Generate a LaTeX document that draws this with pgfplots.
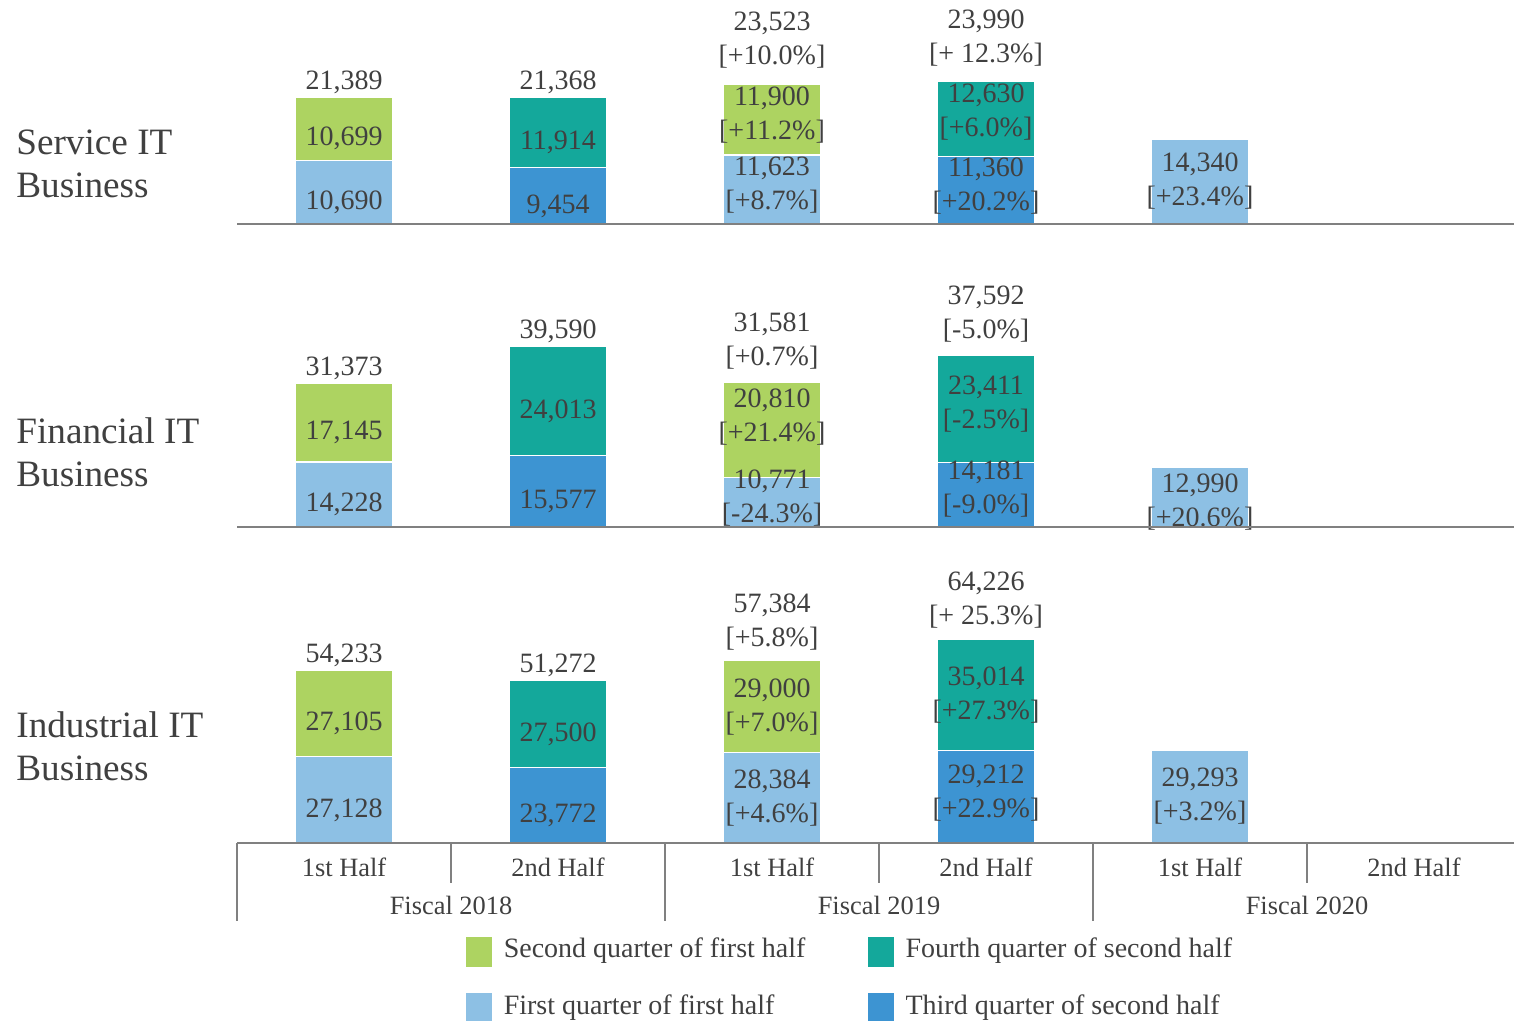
\documentclass[border=0pt]{standalone}
\usepackage{fontspec}
\setmainfont{Liberation Serif}
\usepackage{pgfplots}
\usepackage{pgfplotstable}
\pgfplotsset{compat=1.18}

\definecolor{qone}{HTML}{8DC0E4}
\definecolor{qtwo}{HTML}{ADD361}
\definecolor{qthree}{HTML}{3D94D2}
\definecolor{qfour}{HTML}{14A89B}
\definecolor{txt}{HTML}{404040}
\definecolor{rule}{HTML}{808080}

% columns: q1 = first quarter, q3 = third quarter, q2 = second quarter, q4 = fourth quarter
\pgfplotstableread{
x q1 q3 q2 q4
0 10690 0 10699 0
1 0 9454 0 11914
2 11623 0 11900 0
3 0 11360 0 12630
4 14340 0 0 0
5 0 0 0 0
}\service

\pgfplotstableread{
x q1 q3 q2 q4
0 14228 0 17145 0
1 0 15577 0 24013
2 10771 0 20810 0
3 0 14181 0 23411
4 12990 0 0 0
5 0 0 0 0
}\financial

\pgfplotstableread{
x q1 q3 q2 q4
0 27128 0 27105 0
1 0 23772 0 27500
2 28384 0 29000 0
3 0 29212 0 35014
4 29293 0 0 0
5 0 0 0 0
}\industrial

\pgfplotsset{
  panel/.style={
    scale only axis, width=642pt, anchor=south west,
    xmin=-0.5, xmax=5.5, ymin=0,
    ybar stacked, reverse stacked plots=false, bar width=0.45,
    hide y axis, axis x line=bottom,
    axis line style={rule, line width=1pt, -},
    xtick=\empty, axis on top, clip=false,
    every axis plot/.append style={draw=white, line width=0.6pt},
  },
}
\tikzset{
  lbl/.style={font=\fontsize{14}{17}\selectfont, text=txt, align=center, inner sep=0pt},
  rowl/.style={font=\fontsize{18.6}{21.5}\selectfont, text=txt, align=left, inner sep=0pt, anchor=west},
  cat/.style={font=\fontsize{13.2}{16}\selectfont, text=txt, inner sep=0pt},
  sep/.style={rule, line width=1pt},
}
% labels: single line inside, two lines inside, single line on top, two lines on top
\newcommand\ins[3]{\node[lbl, yshift=-5pt] at (axis cs:#1,#2) {#3};}
\newcommand\inm[4][0pt]{\node[lbl, yshift=#1] at (axis cs:#2,#3) {#4};}
\newcommand\tops[3]{\node[lbl, anchor=base, yshift=4pt] at (axis cs:#1,#2) {#3};}
\newcommand\topm[4][0pt]{\node[lbl, anchor=south, yshift=5.25pt+#1] at (axis cs:#2,#3) {#4};}
\newcommand\bars[1]{%
  \addplot[fill=qone] table[x=x, y=q1] {#1};
  \addplot[fill=qthree] table[x=x, y=q3] {#1};
  \addplot[fill=qtwo] table[x=x, y=q2] {#1};
  \addplot[fill=qfour] table[x=x, y=q4] {#1};
}

\begin{document}
\begin{tikzpicture}
\path[use as bounding box] (0,0) rectangle (757pt,510.5pt);

\node[rowl] at (8pt,428.75pt) {Service IT\\Business};
\node[rowl] at (8pt,284.25pt) {Financial IT\\Business};
\node[rowl] at (8pt,137.25pt) {Industrial IT\\Business};

% Service IT
\begin{axis}[panel, at={(118.5pt,398.5pt)}, ymax=30000, height=89pt]
  \bars{\service}
  \ins{0}{5345}{10,690}
  \ins{0}{16039.5}{10,699}
  \tops{0}{21389}{21,389}
  \ins{1}{4727}{9,454}
  \ins{1}{15411}{11,914}
  \tops{1}{21368}{21,368}
  \inm[2pt]{2}{5811.5}{11,623\\{}[+8.7\%]}
  \inm[2.5pt]{2}{17573}{11,900\\{}[+11.2\%]}
  \topm[2.5pt]{2}{23523}{23,523\\{}[+10.0\%]}
  \inm[2pt]{3}{5680}{11,360\\{}[+20.2\%]}
  \inm[3.5pt]{3}{17675}{12,630\\{}[+6.0\%]}
  \topm[2pt]{3}{23990}{23,990\\{}[+ 12.3\%]}
  \inm{4}{7170}{14,340\\{}[+23.4\%]}
\end{axis}

% Financial IT
\begin{axis}[panel, at={(118.5pt,247pt)}, ymax=40000, height=91.4pt]
  \bars{\financial}
  \ins{0}{7114}{14,228}
  \ins{0}{22800.5}{17,145}
  \tops{0}{31373}{31,373}
  \ins{1}{7788.5}{15,577}
  \ins{1}{27583.5}{24,013}
  \tops{1}{39590}{39,590}
  \inm[2pt]{2}{5385.5}{10,771\\{}[-24.3\%]}
  \inm[6.5pt]{2}{21176}{20,810\\{}[+21.4\%]}
  \topm[1.5pt]{2}{31581}{31,581\\{}[+0.7\%]}
  \inm[3pt]{3}{7090.5}{14,181\\{}[-9.0\%]}
  \inm[2.5pt]{3}{25886.5}{23,411\\{}[-2.5\%]}
  \topm[1pt]{3}{37592}{37,592\\{}[-5.0\%]}
  \inm[-2.5pt]{4}{6495}{12,990\\{}[+20.6\%]}
\end{axis}

% Industrial IT
\begin{axis}[panel, at={(118.5pt,89pt)}, ymax=65000, height=103.2pt]
  \bars{\industrial}
  \ins{0}{13564}{27,128}
  \ins{0}{40680.5}{27,105}
  \tops{0}{54233}{54,233}
  \ins{1}{11886}{23,772}
  \ins{1}{37522}{27,500}
  \tops{1}{51272}{51,272}
  \inm{2}{14192}{28,384\\{}[+4.6\%]}
  \inm{2}{42884}{29,000\\{}[+7.0\%]}
  \topm{2}{57384}{57,384\\{}[+5.8\%]}
  \inm[2pt]{3}{14606}{29,212\\{}[+22.9\%]}
  \inm{3}{46719}{35,014\\{}[+27.3\%]}
  \topm{3}{64226}{64,226\\{}[+ 25.3\%]}
  \inm{4}{14646.5}{29,293\\{}[+3.2\%]}
  % category axis
  \node[cat, yshift=-12pt] at (axis cs:0,0) {1st Half};
  \node[cat, yshift=-12pt] at (axis cs:1,0) {2nd Half};
  \node[cat, yshift=-12pt] at (axis cs:2,0) {1st Half};
  \node[cat, yshift=-12pt] at (axis cs:3,0) {2nd Half};
  \node[cat, yshift=-12pt] at (axis cs:4,0) {1st Half};
  \node[cat, yshift=-12pt] at (axis cs:5,0) {2nd Half};
  \node[cat, yshift=-31pt] at (axis cs:0.5,0) {Fiscal 2018};
  \node[cat, yshift=-31pt] at (axis cs:2.5,0) {Fiscal 2019};
  \node[cat, yshift=-31pt] at (axis cs:4.5,0) {Fiscal 2020};
  \draw[sep] (axis cs:0.5,0) -- ++(0pt,-20pt);
  \draw[sep] (axis cs:2.5,0) -- ++(0pt,-20pt);
  \draw[sep] (axis cs:4.5,0) -- ++(0pt,-20pt);
  \draw[sep] (axis cs:-0.5,0) -- ++(0pt,-39pt);
  \draw[sep] (axis cs:1.5,0) -- ++(0pt,-39pt);
  \draw[sep] (axis cs:3.5,0) -- ++(0pt,-39pt);
\end{axis}

% legend
\begin{axis}[hide axis, scale only axis, width=10pt, height=10pt,
    at={(233pt,-1.25pt)}, anchor=south west,
    xmin=0, xmax=1, ymin=0, ymax=1,
    legend columns=2, legend cell align=left,
    legend style={at={(0,0)}, anchor=south west, draw=none, fill=none,
      inner sep=0pt, outer sep=0pt, column sep=0pt, row sep=11pt,
      font=\fontsize{14}{17}\selectfont, text=txt, nodes={inner sep=0pt}},
    legend image code/.code={\fill[#1, draw=none] (0pt,-8.5pt) rectangle (13pt,6.5pt);
      \path (0pt,-8.25pt) (18.5pt,8.75pt);}]
  \addlegendimage{fill=qtwo}
  \addlegendentry{\makebox[182pt][l]{Second quarter of first half}}
  \addlegendimage{fill=qfour}
  \addlegendentry{Fourth quarter of second half}
  \addlegendimage{fill=qone}
  \addlegendentry{\makebox[182pt][l]{First quarter of first half}}
  \addlegendimage{fill=qthree}
  \addlegendentry{Third quarter of second half}
\end{axis}
\end{tikzpicture}
\end{document}
